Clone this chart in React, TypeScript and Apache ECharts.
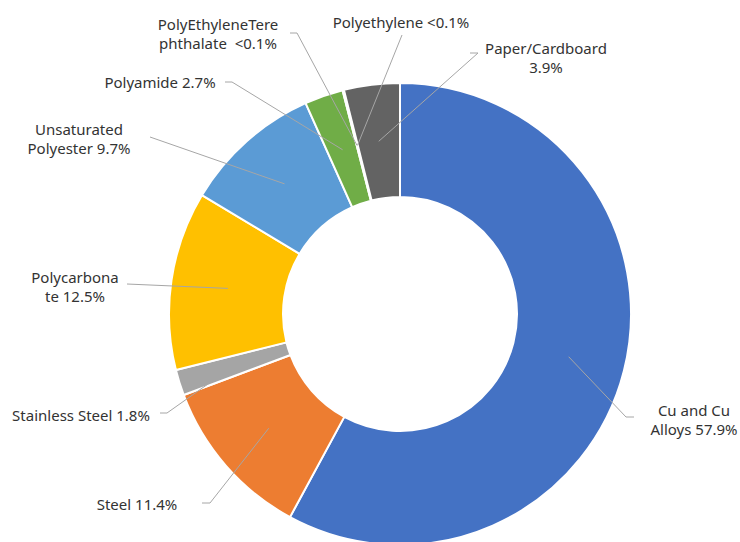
import React, { useEffect, useRef } from 'react';
import * as echarts from 'echarts';

// ---- data ----
const categories = [
  'Cu and Cu Alloys',
  'Steel',
  'Stainless Steel',
  'Polycarbonate',
  'Unsaturated Polyester',
  'Polyamide',
  'PolyEthyleneTerephthalate',
  'Polyethylene',
  'Paper/Cardboard',
];
const shares = [57.9, 11.4, 1.8, 12.5, 9.7, 2.7, 0.05, 0.05, 3.9];
const labelNames = [
  'Cu and Cu\nAlloys',
  'Steel',
  'Stainless Steel',
  'Polycarbona\nte',
  'Unsaturated\nPolyester',
  'Polyamide',
  'PolyEthyleneTere\nphthalate ',
  'Polyethylene',
  'Paper/Cardboard\n',
];
const colors = ['#4472C4', '#ED7D31', '#A5A5A5', '#FFC000', '#5B9BD5', '#70AD47', '#264478', '#9E480E', '#636363'];

// ---- label layout (positions of label texts and leader-line starts) ----
const labelCenters = [
  [694, 419], [137, 504], [81, 415], [75, 286], [79, 138], [160, 82], [218, 33], [401, 22], [546, 57],
];
const lineStarts = [
  [634, 417], [202, 503], [160, 413], [127, 284], [150, 137], [225, 82], [290, 33], [402, 35], [470, 53],
];
const elbows = [-8, 8, 7, 0, 0, 7, 7, 0, 8];

const pctText = (v: number) => (v < 0.1 ? '<0.1%' : v.toFixed(1) + '%');

export default function App() {
  const ref = useRef<HTMLDivElement>(null);
  useEffect(() => {
    if (!ref.current) return;
    const chart = echarts.init(ref.current, null, { renderer: 'svg' });
    const data = categories.map((c, i) => ({ name: c, value: shares[i] }));
    chart.setOption({
      animation: false,
      color: colors,
      series: [
        {
          type: 'pie',
          z: 2,
          center: [400, 314],
          radius: [117, 231],
          startAngle: 90,
          clockwise: true,
          silent: true,
          avoidLabelOverlap: false,
          label: { show: false },
          labelLine: { show: false },
          itemStyle: { borderColor: '#ffffff', borderWidth: 2 },
          data,
        },
        {
          type: 'pie',
          z: 5,
          center: [400, 314],
          radius: [0, 174],
          startAngle: 90,
          clockwise: true,
          silent: true,
          avoidLabelOverlap: false,
          itemStyle: { color: 'rgba(0,0,0,0)', borderWidth: 0 },
          label: {
            show: true,
            position: 'outside',
            color: '#333333',
            fontFamily: 'Noto Sans',
            fontSize: 15,
            lineHeight: 19,
            formatter: (p: any) => {
              const n = labelNames[p.dataIndex];
              return n + (n.endsWith('\n') ? '' : ' ') + pctText(shares[p.dataIndex]);
            },
          },
          labelLine: {
            show: true,
            length: 5,
            length2: 5,
            smooth: false,
            lineStyle: { color: '#A6A6A6', width: 1 },
          },
          labelLayout: (params: any) => {
            const i = params.dataIndex;
            const [cx, cy] = labelCenters[i];
            const [sx, sy] = lineStarts[i];
            const anchor = params.labelLinePoints && params.labelLinePoints[0];
            const pts: number[][] = [[sx, sy]];
            if (elbows[i]) pts.push([sx + elbows[i], sy]);
            if (anchor) pts.push([anchor[0], anchor[1]]);
            return {
              x: cx,
              y: cy,
              align: 'center',
              verticalAlign: 'middle',
              labelLinePoints: pts,
            };
          },
          data,
        },
      ],
    });
    return () => chart.dispose();
  }, []);
  return (
    <div
      ref={ref}
      style={{ position: 'fixed', left: 0, top: 0, width: 740, height: 542, background: '#ffffff' }}
    />
  );
}
